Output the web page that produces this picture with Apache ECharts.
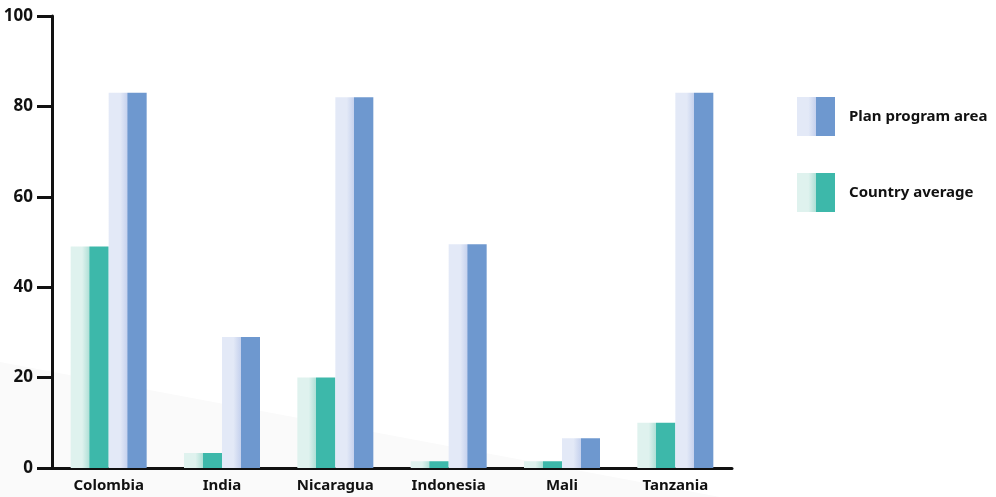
<!DOCTYPE html>
<html>
<head>
<meta charset="utf-8">
<script src="https://cdn.jsdelivr.net/npm/echarts@6/dist/echarts.min.js"></script>
<style>
  html, body { margin: 0; padding: 0; background: #ffffff; }
  #chart { width: 996px; height: 497px; }
</style>
</head>
<body>
<div id="chart"></div>
<script>
// Countries compared
const countries = ['Colombia', 'India', 'Nicaragua', 'Indonesia', 'Mali', 'Tanzania'];
// Percentages per country
const countryAverage = [49, 3.3, 20, 1.5, 1.5, 10];
const planProgramArea = [83, 29, 82, 49.5, 6.6, 83];
// Y axis range and step
const yMin = 0;
const yMax = 100;
const yStep = 20;

const FONT = '"Noto Sans", "Open Sans", sans-serif';

// Half-washed bar fill: pale textured left half, solid right half
function washedFill(pale, mid, solid) {
  return new echarts.graphic.LinearGradient(0, 0, 1, 0, [
    { offset: 0, color: pale },
    { offset: 0.3, color: pale },
    { offset: 0.49, color: mid },
    { offset: 0.5, color: solid },
    { offset: 1, color: solid }
  ]);
}

const tealFill = washedFill('#dff2ee', '#b0e0d7', '#3db8aa');
const blueFill = washedFill('#e3e9f7', '#c6d2ee', '#6e98cf');

const chart = echarts.init(document.getElementById('chart'), null, { renderer: 'canvas' });

chart.setOption({
  backgroundColor: '#ffffff',
  animation: false,
  graphic: [{
    type: 'polygon',
    z: -10,
    silent: true,
    shape: { points: [[0, 362], [720, 497], [0, 497]] },
    style: { fill: '#fafafa' }
  }],
  grid: { left: 52, top: 16, width: 680, bottom: 29, containLabel: false },
  legend: {
    orient: 'vertical',
    left: 797,
    top: 97,
    padding: 0,
    itemWidth: 38,
    itemHeight: 39,
    itemGap: 37,
    icon: 'rect',
    data: ['Plan program area', 'Country average'],
    textStyle: {
      fontFamily: FONT,
      fontWeight: 'bold',
      fontSize: 15,
      color: '#111111',
      padding: [0, 0, 0, 9]
    }
  },
  xAxis: {
    type: 'category',
    data: countries,
    axisLine: { lineStyle: { color: '#111111', width: 3 } },
    axisTick: { show: false },
    axisLabel: {
      fontFamily: FONT,
      fontWeight: 'bold',
      fontSize: 15,
      color: '#111111',
      margin: 10
    }
  },
  yAxis: {
    type: 'value',
    min: yMin,
    max: yMax,
    interval: yStep,
    splitLine: { show: false },
    axisLine: { show: true, lineStyle: { color: '#111111', width: 3 } },
    axisTick: { show: true, length: 15, lineStyle: { color: '#111111', width: 3 } },
    axisLabel: {
      fontFamily: FONT,
      fontWeight: 'bold',
      fontSize: 17,
      color: '#111111',
      margin: 19
    }
  },
  series: [
    {
      name: 'Country average',
      type: 'bar',
      data: countryAverage,
      barWidth: 38,
      barGap: '0%',
      itemStyle: { color: tealFill }
    },
    {
      name: 'Plan program area',
      type: 'bar',
      data: planProgramArea,
      barWidth: 38,
      barGap: '0%',
      itemStyle: { color: blueFill }
    }
  ]
});
</script>
</body>
</html>
